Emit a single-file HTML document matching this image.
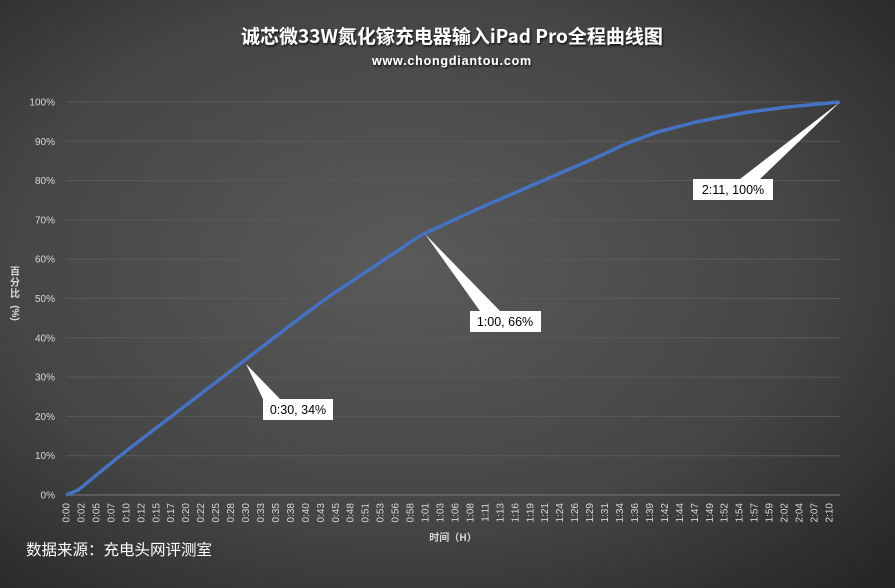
<!DOCTYPE html>
<html><head><meta charset="utf-8"><style>
html,body{margin:0;padding:0;width:895px;height:588px;overflow:hidden;background:#3a3a3a}
svg{display:block}
text{font-family:"Liberation Sans","Noto Sans CJK SC",sans-serif}
</style></head><body>
<svg width="895" height="588" viewBox="0 0 895 588" xmlns="http://www.w3.org/2000/svg">
<defs>
<radialGradient id="bg" cx="0.45" cy="0.45" r="0.75">
<stop offset="0" stop-color="#5a5a5a"/>
<stop offset="0.6" stop-color="#454545"/>
<stop offset="1" stop-color="#262626"/>
</radialGradient>
<filter id="sh"><feDropShadow dx="1" dy="1.5" stdDeviation="1" flood-color="#000" flood-opacity="0.8"/></filter>
</defs>
<rect width="895" height="588" fill="url(#bg)"/>
<text x="452" y="43" text-anchor="middle" font-size="19" font-weight="bold" fill="#fff" filter="url(#sh)" style="font-family:'Noto Sans CJK SC',sans-serif">诚芯微33W氮化镓充电器输入iPad Pro全程曲线图</text>
<text x="452" y="65" text-anchor="middle" font-size="12.5" font-weight="bold" fill="#fff" filter="url(#sh)" letter-spacing="0.8">www.chongdiantou.com</text>
<g stroke-width="1" id="grid"></g>
<g font-size="10" fill="#d8d8d8" text-anchor="end" id="ylab"></g>
<g font-size="10" fill="#d8d8d8" id="xlab"></g>
<g font-size="10" fill="#d8d8d8" font-weight="bold" text-anchor="middle" style="font-family:'Noto Sans CJK SC',sans-serif">
<text x="15" y="275">百</text>
<text x="15" y="286">分</text>
<text x="15" y="297">比</text>
<text transform="translate(12,313) rotate(90)">(%)</text>
</g>
<text x="453" y="541" font-size="10" fill="#d8d8d8" text-anchor="middle" font-weight="bold" style="font-family:'Noto Sans CJK SC',sans-serif">时间（H）</text>
<text x="26" y="555" font-size="15.5" fill="#fff" style="font-family:'Noto Sans CJK SC',sans-serif">数据来源：充电头网评测室</text>
<path id="curve" fill="none" stroke="#4472c4" stroke-width="3.5" stroke-linejoin="round"/>
<g fill="#fff">
<polygon points="246,364 263,399 280,399"/>
<rect x="263" y="399" width="70" height="21"/>
<polygon points="425,234 480,311 500,311"/>
<rect x="470" y="311" width="71" height="21"/>
<polygon points="840,102 740,179 760,179"/>
<rect x="693" y="179" width="80" height="21"/>
</g>
<g font-size="12.5" fill="#000" text-anchor="middle">
<text x="298" y="414">0:30, 34%</text>
<text x="505" y="326">1:00, 66%</text>
<text x="733" y="194">2:11, 100%</text>
</g>
</svg>
<script>
var ns="http://www.w3.org/2000/svg";
function el(t,a,p,txt){var e=document.createElementNS(ns,t);for(var k in a)e.setAttribute(k,a[k]);if(txt)e.textContent=txt;document.getElementById(p).appendChild(e);}
for(var i=0;i<=10;i++){var y=495-i*39.3;el("line",{x1:66,x2:840,y1:y,y2:y,stroke:i==0?"#7a7a7a":"#5a5a5a"},"grid");el("text",{x:55,y:y+3.5},"ylab",(i*10)+"%");}
var L="0:00,0:02,0:05,0:07,0:10,0:12,0:15,0:17,0:20,0:22,0:25,0:28,0:30,0:33,0:35,0:38,0:40,0:43,0:45,0:48,0:51,0:53,0:56,0:58,1:01,1:03,1:06,1:08,1:11,1:13,1:16,1:19,1:21,1:24,1:26,1:29,1:31,1:34,1:36,1:39,1:42,1:44,1:47,1:49,1:52,1:54,1:57,1:59,2:02,2:04,2:07,2:10".split(",");
L.forEach(function(s,i){var x=66+i*14.96;el("text",{transform:"translate("+(x+3.5)+",503) rotate(-90)","text-anchor":"end"},"xlab",s);});
var pts=[[0,0],[2,1.2],[10,11],[20,22.5],[30,34],[40,45.5],[45,51],[50,56],[55,61],[60,66],[70,73],[80,79.5],[90,86],[95,89.5],[100,92.3],[107,95],[115,97.3],[122,98.7],[131,100]];
var d="";pts.forEach(function(p,i){var x=66+p[0]*5.905,y=495-p[1]*3.93;d+=(i?"L":"M")+x.toFixed(1)+","+y.toFixed(1);});
document.getElementById("curve").setAttribute("d",d);
</script>
</body></html>
